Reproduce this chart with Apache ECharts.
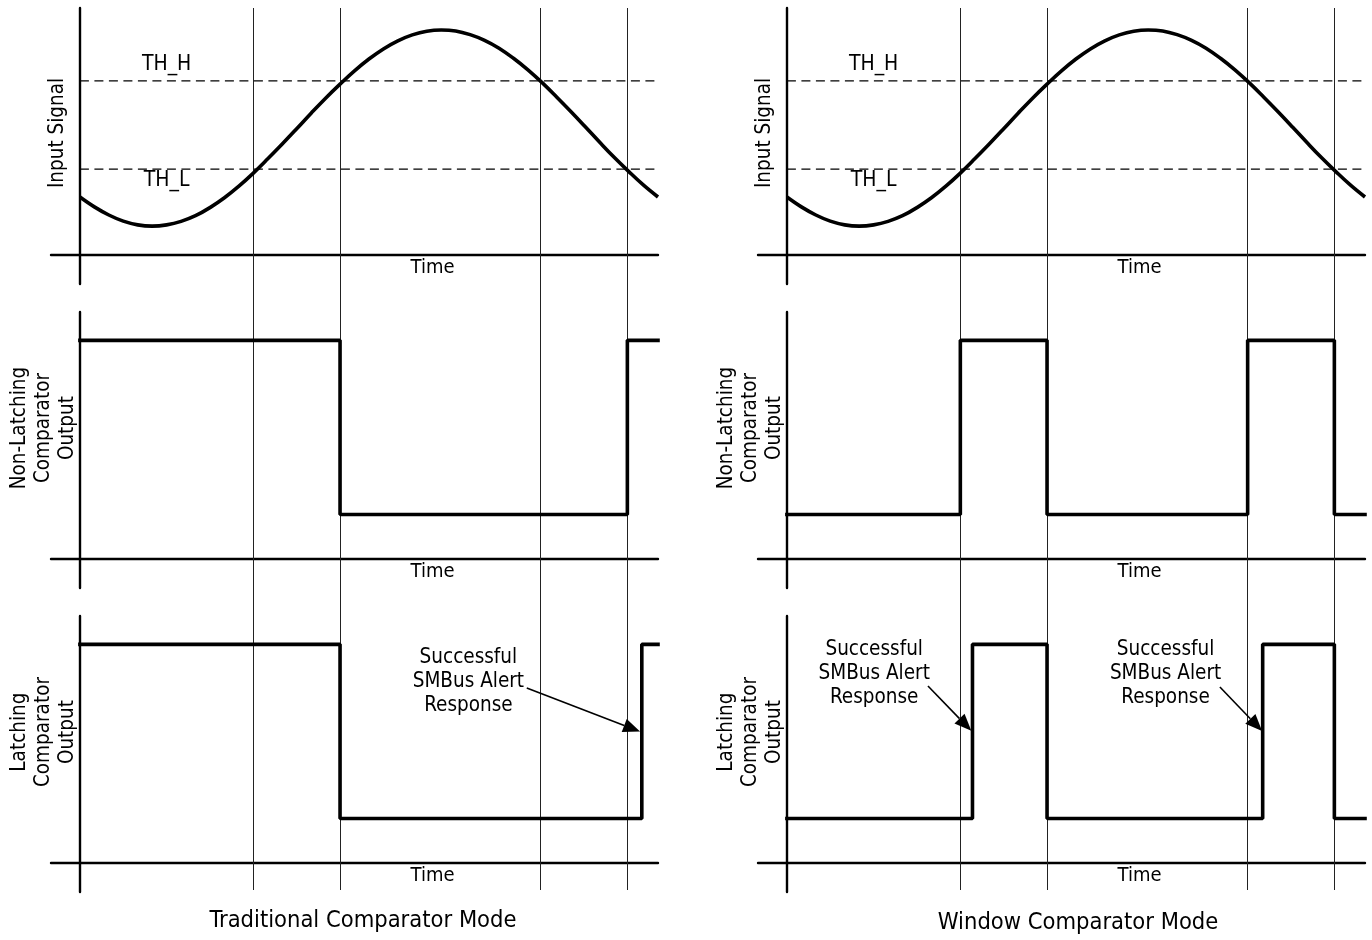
<!DOCTYPE html>
<html><head><meta charset="utf-8">
<script src="https://cdn.jsdelivr.net/npm/echarts@6/dist/echarts.min.js"></script>
<style>html,body{margin:0;padding:0;background:#fff}#main{width:1372px;height:940px}</style>
</head><body><div id="main"></div>
<script>
// ---------- data (time in % of the panel width, levels in % of panel height) ----------
const timeSamples = [0,2.5,5,7.5,10,12.5,15,17.5,20,22.5,25,27.5,30,32.5,35,37.5,40,42.5,45,47.5,50,52.5,55,57.5,60,62.5,65,67.5,70,72.5,75,77.5,80,82.5,85,87.5,90,92.5,95,97.5,100];
const inputSignal = [23.3,19.3,16.0,13.5,12.0,11.5,12.0,13.4,15.7,19.0,23.0,27.7,33.0,38.8,44.8,51.0,57.3,63.4,69.1,74.5,79.3,83.4,86.7,89.1,90.6,91.1,90.7,89.2,86.9,83.7,79.6,74.9,69.6,63.8,57.8,51.6,45.3,39.2,33.5,28.1,23.3];
const thresholdHigh = 70.4;
const thresholdLow = 34.6;
const HIGH = 88.5;
const LOW = 17.8;
const edgeTimes = [30, 45, 79.7, 94.7];

const tradNonLatchTimes = [0, 45, 94.7, 100];
const tradNonLatchLevels = [HIGH, LOW, HIGH, HIGH];
const tradLatchTimes = [0, 45, 97.2, 100];
const tradLatchLevels = [HIGH, LOW, HIGH, HIGH];

const winNonLatchTimes = [0, 30, 45, 79.7, 94.7, 100];
const winNonLatchLevels = [LOW, HIGH, LOW, HIGH, LOW, LOW];
const winLatchTimes = [0, 32.1, 45, 82.3, 94.7, 100];
const winLatchLevels = [LOW, HIGH, LOW, HIGH, LOW, LOW];

const rowNames = ['Input Signal', 'Non-Latching\nComparator\nOutput', 'Latching\nComparator\nOutput'];
const colTitles = ['Traditional Comparator Mode', 'Window Comparator Mode'];
const timeName = 'Time';
const thNames = ['TH_H', 'TH_L'];
const alertText = 'Successful\nSMBus Alert\nResponse';
// annotation anchors (data units) : [textX, textY, tailX, tailY, tipX, tipY]
const tradAlerts = [[67.2, 73.3, 77.3, 70.8, 96.9, 53.1]];
const winAlerts = [[15.1, 76.6, 24.4, 71.6, 31.9, 53.4], [65.5, 76.6, 74.9, 71.2, 82.2, 53.3]];

// ---------- layout ----------
const FONT = "Tahoma, 'DejaVu Sans Condensed', 'DejaVu Sans', sans-serif";
const colLeft = [51, 758];
const colWidth = 607;
const rowTop = [8, 312, 616];
const rowHeight = 276;

function pairs(xs, ys) { return xs.map((x, i) => [x, ys[i]]); }

const grids = [], xAxes = [], yAxes = [], series = [];
const stepData = [
  [null, pairs(tradNonLatchTimes, tradNonLatchLevels), pairs(tradLatchTimes, tradLatchLevels)],
  [null, pairs(winNonLatchTimes, winNonLatchLevels), pairs(winLatchTimes, winLatchLevels)]
];
const axisLineStyle = { color: '#000', width: 2.4 };
for (let c = 0; c < 2; c++) {
  for (let r = 0; r < 4; r++) {
    const gi = c * 4 + r;
    const overlay = r === 3;
    grids.push({ left: colLeft[c], width: colWidth, top: overlay ? 8 : rowTop[r], height: overlay ? 882 : rowHeight });
    xAxes.push({ type: 'value', gridIndex: gi, min: -5, max: 100, show: !overlay,
      axisLine: { show: true, onZero: true, lineStyle: axisLineStyle },
      axisTick: { show: false }, axisLabel: { show: false }, splitLine: { show: false } });
    yAxes.push({ type: 'value', gridIndex: gi, min: overlay ? 0 : -12, max: 100, show: !overlay,
      axisLine: { show: true, onZero: true, lineStyle: axisLineStyle },
      axisTick: { show: false }, axisLabel: { show: false }, splitLine: { show: false } });
    if (overlay) {
      series.push({ type: 'line', xAxisIndex: gi, yAxisIndex: gi, data: [], silent: true, z: 1,
        markLine: { silent: true, symbol: 'none', label: { show: false }, animation: false,
          lineStyle: { color: '#222', width: 1, type: 'solid' },
          data: edgeTimes.map(t => ({ xAxis: t })) } });
    } else if (r === 0) {
      series.push({ type: 'line', xAxisIndex: gi, yAxisIndex: gi, data: pairs(timeSamples, inputSignal),
        smooth: 0.4, showSymbol: false, symbol: 'none', z: 5,
        lineStyle: { color: '#000', width: 3.6 } });
      [thresholdHigh, thresholdLow].forEach(v => series.push({ type: 'line', xAxisIndex: gi, yAxisIndex: gi,
        data: [[0, v], [100, v]], symbol: 'none', z: 3,
        lineStyle: { color: '#000', width: 1.3, type: [9, 5.5] } }));
    } else {
      series.push({ type: 'line', xAxisIndex: gi, yAxisIndex: gi, data: stepData[c][r],
        step: 'end', symbol: 'none', z: 5, lineStyle: { color: '#000', width: 3.6, cap: 'square' } });
    }
  }
}

const chart = echarts.init(document.getElementById('main'), null, { renderer: 'canvas' });
chart.setOption({ animation: false, backgroundColor: '#fff', grid: grids, xAxis: xAxes, yAxis: yAxes, series });

// ---------- text annotations ----------
const g = [];
function txt(p, text, opts) {
  g.push(Object.assign({ type: 'text', x: p[0], y: p[1], z: 10,
    style: Object.assign({ text, fill: '#000', font: '20px ' + FONT, align: 'center', verticalAlign: 'middle', lineHeight: 24 }, opts && opts.style || {}) },
    opts && opts.el || {}));
}
const alertSets = [tradAlerts, winAlerts];
for (let c = 0; c < 2; c++) {
  for (let r = 0; r < 3; r++) {
    const gi = c * 4 + r;
    txt(chart.convertToPixel({ gridIndex: gi }, [61, -5.5]), timeName);
    const yl = r === 0 ? [-3.9, 49.3] : [-6.3, 52.9];
    txt(chart.convertToPixel({ gridIndex: gi }, yl), rowNames[r], { el: { rotation: Math.PI / 2 }, style: { font: '20.5px ' + FONT } });
  }
  txt(chart.convertToPixel({ gridIndex: c * 4 }, [15, 76.9]), thNames[0], { style: { font: '21px ' + FONT } });
  txt(chart.convertToPixel({ gridIndex: c * 4 }, [15, 30.0]), thNames[1], { style: { font: '21px ' + FONT } });
  alertSets[c].forEach(a => {
    const gi = c * 4 + 2;
    txt(chart.convertToPixel({ gridIndex: gi }, [a[0], a[1]]), alertText, { style: { font: '20.5px ' + FONT } });
    const t = chart.convertToPixel({ gridIndex: gi }, [a[2], a[3]]);
    const h = chart.convertToPixel({ gridIndex: gi }, [a[4], a[5]]);
    const dx = h[0] - t[0], dy = h[1] - t[1], L = Math.hypot(dx, dy), ux = dx / L, uy = dy / L;
    const len = 17, hw = 7;
    const bx = h[0] - ux * len, by = h[1] - uy * len;
    g.push({ type: 'line', z: 9, shape: { x1: t[0], y1: t[1], x2: bx, y2: by }, style: { stroke: '#000', lineWidth: 1.6 } });
    g.push({ type: 'polygon', z: 9, shape: { points: [[h[0], h[1]], [bx - uy * hw, by + ux * hw], [bx + uy * hw, by - ux * hw]] }, style: { fill: '#000' } });
  });
}
txt([363, 921], colTitles[0], { style: { font: '23.5px ' + FONT } });
txt([1078, 923], colTitles[1], { style: { font: '23.5px ' + FONT } });
chart.setOption({ graphic: g });
</script></body></html>
